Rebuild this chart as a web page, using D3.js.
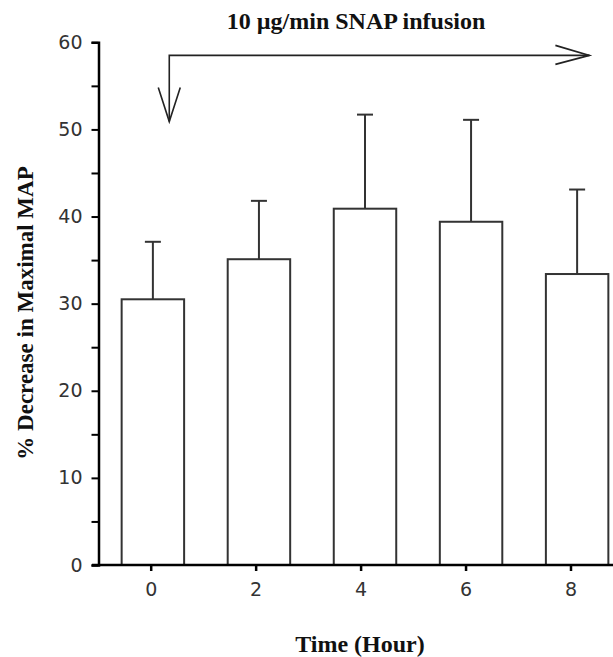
<!DOCTYPE html>
<html>
<head>
<meta charset="utf-8">
<script src="https://cdn.jsdelivr.net/npm/d3@7"></script>
<style>
  body { margin: 0; background: #fff; }
  svg { display: block; }
</style>
</head>
<body>
<div id="chart"></div>
<script>
// values
var hours = [0, 2, 4, 6, 8];
var meanDecrease = [30.5, 35.1, 40.9, 39.4, 33.4];
var sdDecrease = [6.6, 6.7, 10.8, 11.7, 9.7];
var yTicks = [0, 5, 10, 15, 20, 25, 30, 35, 40, 45, 50, 55, 60];

// infusion arrow, in data units (hour, %)
var infusionStart = { hour: 0.354, top: 58.5, tip: 50.9 };
var infusionEnd = { hour: 8.36 };

var W = 613, H = 657;

var svg = d3.select("#chart").append("svg")
  .attr("width", W).attr("height", H);

var yScale = d3.scaleLinear().domain([0, 60]).range([565, 42.3]);

// axis ticks
var xTickScale = d3.scaleLinear().domain([0, 8]).range([150.7, 570.5]);

// bars sit a little to the right of the ticks in the original
var xBand = d3.scaleBand()
  .domain(hours)
  .range([96, 634])
  .paddingInner(0.411)
  .paddingOuter(0.2418);

var data = hours.map(function(h, i) {
  return { hour: h, mean: meanDecrease[i], sd: sdDecrease[i] };
});

// error bars (upper only), drawn before the bars
var err = svg.append("g").attr("class", "errors");
err.selectAll("line.stem")
  .data(data).enter().append("line")
  .attr("class", "stem")
  .attr("x1", function(d) { return xBand(d.hour) + xBand.bandwidth() / 2; })
  .attr("x2", function(d) { return xBand(d.hour) + xBand.bandwidth() / 2; })
  .attr("y1", function(d) { return yScale(d.mean); })
  .attr("y2", function(d) { return yScale(d.mean + d.sd); })
  .attr("stroke", "#333").attr("stroke-width", 2);
err.selectAll("line.cap")
  .data(data).enter().append("line")
  .attr("class", "cap")
  .attr("x1", function(d) { return xBand(d.hour) + xBand.bandwidth() / 2 - 8; })
  .attr("x2", function(d) { return xBand(d.hour) + xBand.bandwidth() / 2 + 8; })
  .attr("y1", function(d) { return yScale(d.mean + d.sd); })
  .attr("y2", function(d) { return yScale(d.mean + d.sd); })
  .attr("stroke", "#333").attr("stroke-width", 2);

svg.append("g").selectAll("rect")
  .data(data).enter().append("rect")
  .attr("x", function(d) { return xBand(d.hour); })
  .attr("y", function(d) { return yScale(d.mean); })
  .attr("width", xBand.bandwidth())
  .attr("height", function(d) { return yScale(0) - yScale(d.mean); })
  .attr("fill", "#fff")
  .attr("stroke", "#333")
  .attr("stroke-width", 2);

// y axis
var yAxis = svg.append("g")
  .attr("transform", "translate(98.5,0)")
  .call(d3.axisLeft(yScale)
    .tickValues(yTicks)
    .tickSize(7)
    .tickPadding(9)
    .tickFormat(function(d) { return d % 10 === 0 ? d : ""; }));
yAxis.select(".domain").attr("stroke", "#000").attr("stroke-width", 2.5);
yAxis.selectAll(".tick line").attr("stroke", "#000").attr("stroke-width", 2);
yAxis.selectAll(".tick text")
  .attr("font-family", "DejaVu Sans").attr("font-size", 19).attr("fill", "#333");

// x axis
var xAxis = svg.append("g")
  .attr("transform", "translate(0,565)")
  .call(d3.axisBottom(xTickScale)
    .tickValues(hours)
    .tickSize(6)
    .tickSizeOuter(0)
    .tickPadding(12));
xAxis.select(".domain")
  .attr("d", "M92," + 0 + "H" + W)
  .attr("stroke", "#000").attr("stroke-width", 2.5);
xAxis.selectAll(".tick line").attr("stroke", "#000").attr("stroke-width", 2.5);
xAxis.selectAll(".tick text")
  .attr("font-family", "DejaVu Sans").attr("font-size", 19).attr("fill", "#333");

// infusion arrow
var ax = xTickScale(infusionStart.hour),
    aTop = yScale(infusionStart.top),
    aTip = yScale(infusionStart.tip),
    bx = xTickScale(infusionEnd.hour);
var arrow = svg.append("g")
  .attr("fill", "none").attr("stroke", "#222").attr("stroke-width", 1.6);
arrow.append("path")
  .attr("d", "M" + ax + "," + aTip + "V" + aTop + "H" + bx);
arrow.append("path")
  .attr("d", "M" + (ax - 11) + "," + (aTip - 34) + "L" + ax + "," + aTip +
             "L" + (ax + 11) + "," + (aTip - 34));
arrow.append("path")
  .attr("d", "M" + (bx - 34) + "," + (aTop - 10) + "L" + bx + "," + aTop +
             "L" + (bx - 34) + "," + (aTop + 9));

// titles
svg.append("text")
  .attr("x", 356).attr("y", 29)
  .attr("text-anchor", "middle")
  .attr("font-family", "Liberation Serif").attr("font-weight", "bold")
  .attr("font-size", 24).attr("fill", "#111")
  .text("10 \u00b5g/min SNAP infusion");

svg.append("text")
  .attr("x", 360).attr("y", 652)
  .attr("text-anchor", "middle")
  .attr("font-family", "Liberation Serif").attr("font-weight", "bold")
  .attr("font-size", 24).attr("fill", "#111")
  .text("Time (Hour)");

svg.append("text")
  .attr("transform", "translate(33,313)rotate(-90)")
  .attr("text-anchor", "middle")
  .attr("font-family", "Liberation Serif").attr("font-weight", "bold")
  .attr("font-size", 23).attr("fill", "#111")
  .text("% Decrease in Maximal MAP");
</script>
</body>
</html>
